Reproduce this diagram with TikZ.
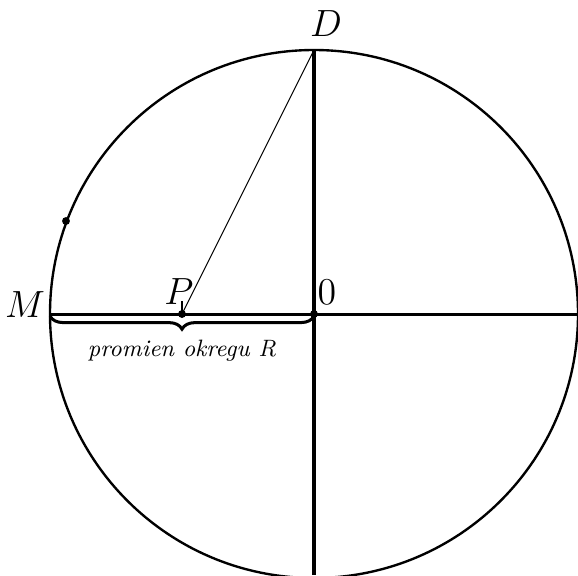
\documentclass[tikz,border=0pt]{standalone}
\usetikzlibrary{decorations.pathreplacing}
\begin{document}
\begin{tikzpicture}[x=0.38pt,y=-0.38pt,
  axis/.style={line width=1.15pt},
  circ/.style={line width=0.9pt},
  thinline/.style={line width=0.4pt},
  tick/.style={line width=0.6pt},
  dotmark/.style={circle,fill=black,inner sep=0pt,minimum size=3pt},
  lbl/.style={inner sep=0pt}]
\useasboundingbox (0,0) rectangle (578,575);
\begin{scope}
\clip (0,0) rectangle (578,575);
\draw[circ] (314,314) circle[radius=264];
\end{scope}
\coordinate (M) at (50,314);
\coordinate (P) at (182,314);
\coordinate (O) at (314,314);
\coordinate (D) at (314,50);
\coordinate (R) at (578,314);
\coordinate (B) at (314,575);
\coordinate (Pt) at (182,301);
\draw[axis] (M) -- (R);
\draw[axis] (D) -- (B);
\draw[thinline] (D) -- (P);
\draw[tick] (P) -- (Pt);
\draw[axis,decorate,decoration={brace,mirror,amplitude=5pt}] (50,316) -- (314,316) node[midway,below=8.5pt,lbl] (txt) {\small\itshape promien okregu R};
\node[dotmark] (p) at (P) {};
\node[dotmark] (o) at (O) {};
\node[dotmark] (q) at (66,221) {};
\node[lbl] (lM) at (25,305) {\Large $M$};
\node[lbl] (lP) at (179,292) {\Large $P$};
\node[lbl] (lO) at (327,292) {\Large $0$};
\node[lbl] (lD) at (326,24) {\Large $D$};
\end{tikzpicture}
\end{document}
